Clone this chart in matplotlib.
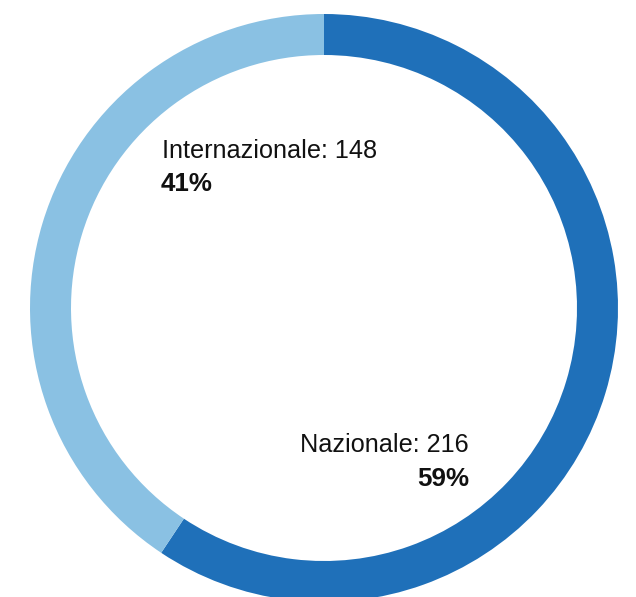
import matplotlib
matplotlib.use("Agg")
import matplotlib.pyplot as plt

categories = ["Nazionale", "Internazionale"]
values = [216, 148]
percents = ["59%", "41%"]
colors = ["#1f70b9", "#8ac1e3"]

W, H = 636, 597
fig = plt.figure(figsize=(W / 100, H / 100), dpi=100)
ax = fig.add_axes([0, 0, 1, 1])

cx, cy, R, width = 324, H - 308, 294, 41
ax.pie(values, colors=colors, startangle=90, counterclock=False,
       center=(cx, cy), radius=R, frame=True,
       wedgeprops=dict(width=width, linewidth=0))
ax.set_xlim(0, W)
ax.set_ylim(0, H)
ax.set_aspect("equal")
ax.axis("off")

font = "Liberation Sans"
fs = 18.2
# Internazionale label (left aligned)
ax.text(162, H - 158, f"{categories[1]}: {values[1]}", fontsize=fs,
        family=font, ha="left", va="baseline", color="#111111")
ax.text(161, H - 191, percents[1], fontsize=fs + 0.5, fontweight="bold",
        family=font, ha="left", va="baseline", color="#111111")
# Nazionale label (right aligned)
ax.text(469, H - 452, f"{categories[0]}: {values[0]}", fontsize=fs,
        family=font, ha="right", va="baseline", color="#111111")
ax.text(469, H - 486, percents[0], fontsize=fs + 0.5, fontweight="bold",
        family=font, ha="right", va="baseline", color="#111111")

fig.savefig("out.png", dpi=100)
